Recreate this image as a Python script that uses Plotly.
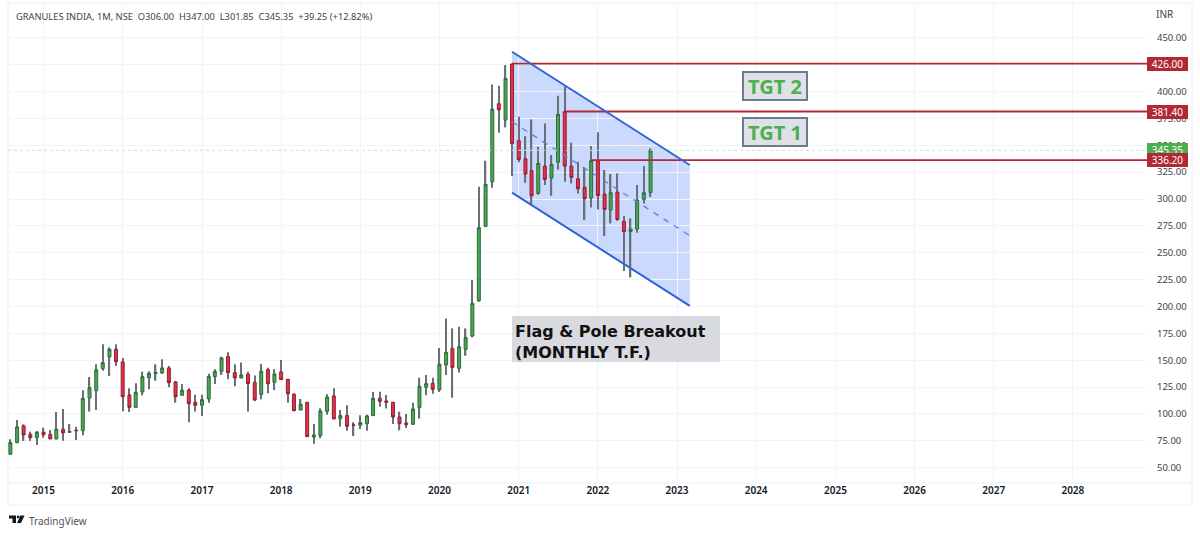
import pandas as pd
import plotly.graph_objects as go

W, H = 1200, 534
L, R, T, B = 8, 1147, 4, 483

months = pd.date_range("2014-08-01", "2022-09-01", freq="MS")
opens = [62.5,73.4,88.9,81.1,78,83,81.1,76.8,85.8,83,84.8,84.5,114.9,121.7,142.2,153,160.2,148.4,117.7,106.2,
         120.5,133.8,137.5,138.2,142.8,129.8,117.4,122.3,110.9,108.1,114,134.7,139.7,153.3,138.5,133.5,136.9,129.5,118.3,141.2,
         129.5,139.1,132.3,118.3,103.7,110.9,78.6,79.9,102.5,116.8,95.4,98.5,89.8,89.5,91,98.5,114.6,112.1,110.9,97.2,
         91.6,90.4,106.2,124.8,128.5,122.6,145.6,161,142.5,160.1,172.5,205.4,274.5,316,388.6,373.4,425.5,354.2,337.4,326.3,
         305.2,330.6,319.5,334.3,381.2,330.6,318.8,310.8,300.9,335.6,304.6,289.7,306.4,279.2,269.9,272,299.6,306]
highs = [76.5,94.4,90.4,83.6,84.2,87.3,85.1,101.9,104.7,90.7,88.2,122,134.4,146.2,164.8,162,164.8,152.1,123.9,128.5,
         139.4,139.7,146.2,150.9,144.7,130.7,127.9,123.9,118,118,137.5,141.6,153.3,157.4,146.2,148,139.4,135.7,146.5,143.1,
         141.6,150.2,132.6,119.2,114,111.2,90.7,105.3,118.3,123.9,103.7,108.1,92.3,98.8,99.4,120.5,120.8,117.7,111.2,102.2,
         100,110.5,133.8,136.3,133.8,161.4,188.9,179.6,181.2,179.6,224.6,311.4,335.6,406.6,405.3,424.5,426,376.5,358.5,374,
         348.6,370.3,340.9,396,404.4,352.3,334.6,329.1,349.2,362.2,326.9,323.2,323.8,284.1,282,313,330.6,347]
lows = [62.5,72.7,74.9,74.9,71.2,78,76.4,76.4,75.2,82.7,75.8,80.2,102.2,103.7,140.3,135.4,144.7,102.5,101.9,105.9,
        117.4,123,131,137.2,124.8,110.5,117.1,92.3,102.2,98.1,110.5,127.9,136.3,132.3,125.7,133.2,102.2,112.1,113.7,119.2,
        122.3,131.6,110.5,102.5,103.4,78.6,72.4,77.4,99.4,95,88.2,84.5,79.6,86.1,84.5,98.2,106.8,105,90.7,84.8,
        87,90.1,95.7,117.4,118.9,120.5,136.2,115.2,138.7,154.2,171.3,204.5,274.2,310.5,361.6,366.6,321.3,334.3,315.1,295,
        304,313,303,327.5,316,314.5,305.2,280.4,292.2,290.3,265.5,277.3,279.8,233,227.1,268.6,295.9,301.85]
closes = [73.4,88,80.5,78,83,80.8,76.8,85.8,82.4,83.6,84.5,114.6,124.5,141,147.8,160.2,148.7,116.1,106.2,120.2,
          134.7,137.8,138.5,142.8,129.2,116.1,122,109.6,108.1,113.3,135,139.4,152.1,138.5,133.5,136.3,128.2,113,139.7,128.2,
          137.2,132,118.9,103.1,109,78.9,80.5,102.8,115.8,95.4,98.5,88.5,89.5,92,98.2,114.6,111.8,110.9,97.2,91,
          90.1,104.7,125.7,128.2,123,146.2,157.3,143.4,162.6,171,202.9,273.3,313.6,383.6,383,412.2,351.7,336.8,323.2,303,
          333.1,318.2,332.2,378.7,330.6,320.1,309.5,300.2,335.6,303.3,290.3,305.8,281,269.6,272,299,305.8,345.35]

price_ticks = list(range(50, 451, 25))
channel_x = ["2020-12-01", "2023-03-01"]
channel_top = [437, 331.6]
channel_mid = [371.9, 265.9]
channel_bottom = [305.9, 200.5]
target_levels = [426.0, 381.4, 336.2]
target_starts = ["2020-12-01", "2021-08-01", "2021-12-01"]
last_close = 345.35
x_min, x_max = "2014-07-21", "2028-12-08"
y_min, y_max = 35.8, 481.4

RED = "#b22833"
BLUE = "#2f63d8"
WICK_MS = 5.4e8


def px(x, y):
    return (x - L) / (R - L), (B - y) / (B - T)


body_top = [max(o, c) for o, c in zip(opens, closes)]
body_bottom = [min(o, c) for o, c in zip(opens, closes)]

fig = go.Figure()
# wicks live in the bar layer, under the candle bodies
fig.add_trace(go.Bar(
    x=months, base=lows, y=[h - l for h, l in zip(highs, lows)], width=WICK_MS,
    marker=dict(color="#6a7078", line=dict(width=0)), hoverinfo="skip", showlegend=False))
fig.add_trace(go.Candlestick(
    x=months, open=opens, high=body_top, low=body_bottom, close=closes,
    increasing=dict(line=dict(color="#2c6a3a", width=1), fillcolor="#4aa654"),
    decreasing=dict(line=dict(color="#8e2030", width=1), fillcolor="#e5314b"),
    whiskerwidth=0, showlegend=False))
fig.add_trace(go.Scatter(
    x=channel_x, y=channel_mid, mode="lines",
    line=dict(color="#5b82dc", width=1.3, dash="6px,6px"), hoverinfo="skip", showlegend=False))
fig.add_trace(go.Scatter(
    x=[x_min, x_max], y=[last_close, last_close], mode="lines",
    line=dict(color="#c5e3c2", width=1, dash="dot"), hoverinfo="skip", showlegend=False))
for level, start in zip(target_levels, target_starts):
    fig.add_trace(go.Scatter(
        x=[start, x_max], y=[level, level], mode="lines",
        line=dict(color=RED, width=1.8), hoverinfo="skip", showlegend=False))
for edge in (channel_top, channel_bottom):
    fig.add_trace(go.Scatter(
        x=channel_x, y=edge, mode="lines",
        line=dict(color=BLUE, width=2), hoverinfo="skip", showlegend=False))

shapes = []
shapes.append(dict(
    type="path", xref="x", yref="y", layer="below", fillcolor="rgba(41,98,255,0.24)", line=dict(width=0),
    path=(f"M {channel_x[0]},{channel_top[0]} L {channel_x[1]},{channel_top[1]} "
          f"L {channel_x[1]},{channel_bottom[1]} L {channel_x[0]},{channel_bottom[0]} Z")))
fx1, fy1 = px(1192, 3)
fx0, fy0 = px(8, 505)
shapes.append(dict(type="rect", xref="paper", yref="paper", x0=fx0, x1=fx1, y0=fy0, y1=fy1,
                   line=dict(color="#eceef1", width=1), fillcolor="rgba(0,0,0,0)", layer="below"))
shapes.append(dict(type="line", xref="paper", yref="paper", x0=fx0, x1=fx1, y0=0, y1=0,
                   line=dict(color="#eceef1", width=1), layer="below"))
bx0, by0 = px(512, 362)
bx1, by1 = px(720, 316)
shapes.append(dict(type="rect", xref="paper", yref="paper", x0=bx0, x1=bx1, y0=by0, y1=by1,
                   fillcolor="#d9dadf", line=dict(width=0)))


def paper_path(points):
    out = []
    for i, (x, y) in enumerate(points):
        a, b = px(x, y)
        out.append(("M" if i == 0 else "L") + f"{a:.5f},{b:.5f}")
    return " ".join(out) + " Z"


for poly in ([(9, 515.5), (16, 515.5), (16, 523), (12.5, 523), (12.5, 518.5), (9, 518.5)],
             [(20.5, 515.5), (24.5, 515.5), (21, 523), (17, 523)]):
    shapes.append(dict(type="path", xref="paper", yref="paper", path=paper_path(poly),
                       fillcolor="#131722", line=dict(width=0)))
cx0, cy0 = px(16.8, 515.5)
cx1, cy1 = px(19.6, 518.3)
shapes.append(dict(type="circle", xref="paper", yref="paper", x0=cx0, x1=cx1, y0=cy1, y1=cy0,
                   fillcolor="#131722", line=dict(width=0)))

annotations = []


def text_at(x, y, text, size, color, xanchor="left", family="Noto Sans", **kw):
    a, b = px(x, y)
    annotations.append(dict(xref="paper", yref="paper", x=a, y=b, text=text, showarrow=False,
                            xanchor=xanchor, yanchor="middle",
                            font=dict(family=family, size=size, color=color), **kw))


text_at(14, 16.5, "GRANULES INDIA, 1M, NSE&nbsp;&nbsp;O306.00&nbsp;&nbsp;H347.00&nbsp;&nbsp;L301.85&nbsp;&nbsp;C345.35&nbsp;&nbsp;+39.25 (+12.82%)", 9.3, "#3a3f4a")
text_at(1154, 14, "INR", 10, "#3a3f4a")
text_at(27, 521, "TradingView", 10, "#50535e")

for value, bg in ((426.0, RED), (381.4, RED), (345.35, "#4caf50"), (336.2, RED)):
    annotations.append(dict(xref="paper", yref="y", x=px(1167.5, 0)[0], y=value, text=f"{value:.2f}",
                            showarrow=False, xanchor="center", yanchor="middle", width=41, height=14,
                            bgcolor=bg, borderpad=0, borderwidth=0,
                            font=dict(family="Noto Sans", size=10, color="#ffffff")))

for label, cy in (("TGT 2", 86.5), ("TGT 1", 131.5)):
    a, b = px(775, cy)
    annotations.append(dict(xref="paper", yref="paper", x=a, y=b, text=label, showarrow=False,
                            xanchor="center", yanchor="middle", width=62, height=26,
                            bgcolor="#dfe1e6", bordercolor="#6b7c8f", borderwidth=2, borderpad=0,
                            font=dict(family="Noto Sans", size=20, color="#4caf50", weight="bold")))

a, b = px(515, 342)
annotations.append(dict(xref="paper", yref="paper", x=a, y=b,
                        text="Flag &amp; Pole Breakout<br>(MONTHLY T.F.)", showarrow=False,
                        xanchor="left", yanchor="middle", align="left", borderpad=0, borderwidth=0,
                        font=dict(family="DejaVu Sans", size=16, color="#111111", weight="bold")))

fig.update_layout(
    width=W, height=H, margin=dict(l=L, r=W - R, t=T, b=H - B, pad=0),
    paper_bgcolor="#ffffff", plot_bgcolor="#ffffff", showlegend=False, barmode="overlay",
    shapes=shapes, annotations=annotations,
    xaxis=dict(type="date", range=[x_min, x_max], rangeslider=dict(visible=False),
               dtick="M12", tick0="2015-01-01", tickformat="%Y", showgrid=True, gridcolor="#f3f4f6",
               zeroline=False, showline=False, ticks="",
               tickfont=dict(family="Noto Sans", size=10, color="#131722", weight=600)),
    yaxis=dict(side="right", range=[y_min, y_max], tickmode="array", tickvals=price_ticks,
               ticktext=[f"{v:.2f}" for v in price_ticks], showgrid=True, gridcolor="#f3f4f6",
               zeroline=False, showline=False, ticks="", ticklabelstandoff=9,
               tickfont=dict(family="Noto Sans", size=9.5, color="#3a3f4a")),
)
fig.write_html("out.html", post_script="document.body.style.margin='0';",
               config={"displayModeBar": False})
